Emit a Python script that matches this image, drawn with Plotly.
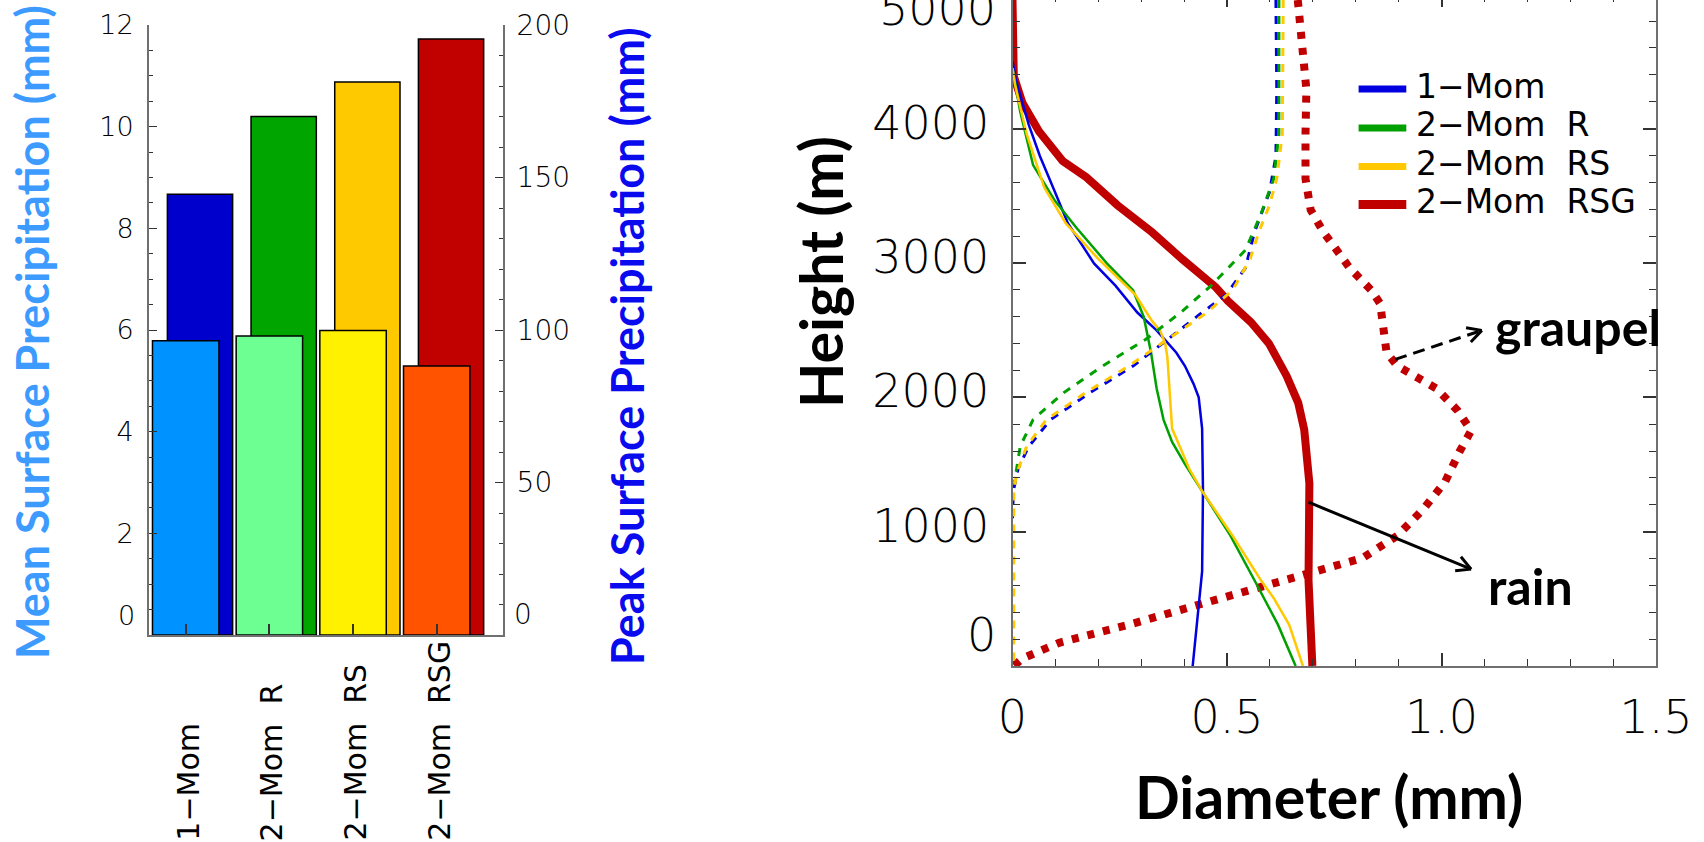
import math
import plotly.graph_objects as go

W, H = 1704, 842

# ---------------- data: left panel (bars) ----------------
categories = ["1-Mom", "2-Mom R", "2-Mom RS", "2-Mom RSG"]
peak_precip = [144.5, 170.0, 181.3, 195.4]      # right axis (mm)
mean_precip = [5.79, 5.88, 5.99, 5.29]          # left axis (mm)
peak_colors = ["#0000CD", "#00A500", "#FFC900", "#C10000"]
mean_colors = ["#0092FF", "#6DFF92", "#FFF100", "#FF5300"]

left_ticks_mean = [0, 2, 4, 6, 8, 10, 12]
left_ticks_peak = [0, 50, 100, 150, 200]

# ---------------- data: right panel (profiles) ----------------
rain_1mom_h = [4500, 4359, 4027, 3794, 3528, 3296, 2997, 2831, 2631, 2498, 2332, 2233, 2100, 2000, 1767, 1302, 704, 306, 0]
rain_1mom_d = [0.0, 0.008, 0.038, 0.064, 0.099, 0.129, 0.190, 0.240, 0.291, 0.336, 0.382, 0.402, 0.422, 0.434, 0.442, 0.444, 0.442, 0.430, 0.420]

rain_2momR_h = [4450, 4392, 4126, 3728, 3462, 3262, 2997, 2797, 2598, 2332, 2066, 1834, 1668, 1502, 1302, 970, 638, 306, 0]
rain_2momR_d = [0.0, 0.003, 0.018, 0.048, 0.099, 0.149, 0.220, 0.281, 0.306, 0.323, 0.336, 0.352, 0.372, 0.402, 0.442, 0.508, 0.564, 0.619, 0.660]

rain_2momRS_h = [4450, 4326, 3960, 3561, 3296, 3030, 2764, 2565, 2498, 2399, 2299, 2033, 1767, 1468, 1302, 970, 638, 505, 306, 0]
rain_2momRS_d = [0.0, 0.006, 0.033, 0.074, 0.124, 0.200, 0.286, 0.326, 0.344, 0.356, 0.361, 0.366, 0.372, 0.412, 0.442, 0.513, 0.579, 0.609, 0.645, 0.677]

rain_2momRSG_h = [4957, 4700, 4390, 4193, 3978, 3758, 3638, 3429, 3229, 3030, 2819, 2718, 2559, 2399, 2159, 1959, 1759, 1360, 1000, 638, 0]
rain_2momRSG_d = [0.0, 0.001, 0.003, 0.023, 0.062, 0.117, 0.172, 0.245, 0.325, 0.395, 0.474, 0.502, 0.556, 0.598, 0.639, 0.666, 0.680, 0.692, 0.693, 0.690, 0.699]

ice_1mom_h = [4957, 4292, 3794, 3528, 3229, 2963, 2764, 2631, 2432, 2233, 2033, 1834, 1635, 1468, 1302, 1100]
ice_1mom_d = [0.614, 0.616, 0.614, 0.599, 0.564, 0.543, 0.498, 0.442, 0.362, 0.281, 0.180, 0.089, 0.038, 0.013, 0.002, 0.0]

ice_2momR_h = [4957, 3960, 3628, 3362, 3096, 2831, 2631, 2432, 2233, 2033, 1834, 1635, 1435, 1370]
ice_2momR_d = [0.621, 0.621, 0.609, 0.579, 0.543, 0.463, 0.392, 0.311, 0.210, 0.119, 0.048, 0.018, 0.008, 0.005]

ice_2momRS_h = [4957, 3960, 3628, 3429, 3229, 3030, 2798, 2631, 2432, 2233, 2033, 1834, 1635, 1435, 1302, 0]
ice_2momRS_d = [0.631, 0.629, 0.616, 0.599, 0.574, 0.554, 0.513, 0.453, 0.362, 0.271, 0.170, 0.079, 0.033, 0.010, 0.003, 0.003]

graupel_2momRSG_h = [4957, 4625, 4292, 3960, 3628, 3395, 3229, 2963, 2798, 2698, 2565, 2333, 2233, 2066, 1900, 1751, 1601, 1369, 1169, 970, 804, 671, 571, 439, 306, 173, 56, 0]
graupel_2momRSG_d = [0.665, 0.677, 0.685, 0.683, 0.683, 0.695, 0.725, 0.786, 0.836, 0.857, 0.862, 0.872, 0.897, 0.988, 1.038, 1.069, 1.043, 1.008, 0.958, 0.897, 0.816, 0.675, 0.554, 0.415, 0.270, 0.109, 0.023, 0.003]

legend_labels = ["1-Mom", "2-Mom R", "2-Mom RS", "2-Mom RSG"]
line_colors = ["#0000E0", "#00A000", "#FFC800", "#C00000"]

x_ticks_right = [0, 0.5, 1.0, 1.5]
x_ticktext_right = ["0", "0.5", "1.0", "1.5"]
y_ticks_right = [0, 1000, 2000, 3000, 4000, 5000]

# ---------------- geometry (picture pixels) ----------------
L_X0, L_X1, L_Y0, L_Y1 = 149, 503, 635, 25         # left panel box
R_X0, R_X1, R_Y0 = 1012.5, 1656, 666                # right panel box
PX_PER_MM = (R_X1 - R_X0) / 1.5
PX_PER_M = 0.13435
R_YTOP = R_Y0 / PX_PER_M                            # height at the top pixel row


def pxx(x):
    return x / W


def pxy(y):
    return 1 - y / H


def lab(s):
    return s.replace("-", "\u2212").replace(" ", "\u00a0\u00a0")


TICKFONT = "DejaVu Sans"
TITLEFONT = "Lato"
AXC = "#707070"
TKC = "#333333"


def tickf(s, w=300):
    return dict(family=TICKFONT, size=s, color="#000000", weight=w)


fig = go.Figure()

# bars: peak (back, right axis), mean (front, left axis)
fig.add_trace(go.Bar(x=categories, y=peak_precip, xaxis="x", yaxis="y",
                     width=0.78, offset=-0.219,
                     marker=dict(color=peak_colors, line=dict(color="#000000", width=1.5)),
                     showlegend=False, hoverinfo="skip"))
fig.add_trace(go.Bar(x=categories, y=mean_precip, xaxis="x", yaxis="y2",
                     width=0.794, offset=-0.397,
                     marker=dict(color=mean_colors, line=dict(color="#000000", width=1.5)),
                     showlegend=False, hoverinfo="skip"))


def add_line(xs, ys, color, width, dash="solid"):
    fig.add_trace(go.Scatter(x=xs, y=ys, xaxis="x2", yaxis="y3", mode="lines",
                             line=dict(color=color, width=width, dash=dash),
                             showlegend=False, hoverinfo="skip"))

add_line(rain_2momRSG_d, rain_2momRSG_h, line_colors[3], 8)
add_line(graupel_2momRSG_d, graupel_2momRSG_h, line_colors[3], 8, "7px,9px")
add_line(rain_1mom_d, rain_1mom_h, line_colors[0], 2.5)
add_line(rain_2momR_d, rain_2momR_h, line_colors[1], 2.5)
add_line(rain_2momRS_d, rain_2momRS_h, line_colors[2], 2.5)
add_line(ice_1mom_d, ice_1mom_h, line_colors[0], 3, "8px,8px")
add_line(ice_2momR_d, ice_2momR_h, line_colors[1], 3, "8px,8px")
add_line(ice_2momRS_d, ice_2momRS_h, line_colors[2], 3, "8px,8px")
fig.add_trace(go.Scatter(x=[], y=[], xaxis="x3", yaxis="y3", showlegend=False, hoverinfo="skip"))

ann = []
shapes = []

# category labels under the bars
for c in categories:
    ann.append(dict(x=c, xref="x", y=0, yref="paper", yanchor="bottom", xanchor="center",
                    text=lab(c), textangle=-90, showarrow=False, xshift=2, yshift=-1,
                    font=dict(family=TICKFONT, size=30, color="#000000")))

# raised zero labels (IDL style) and the partly hidden 5000 label
ann.append(dict(x=pxx(L_X0 - 12), y=pxy(L_Y0 - 2), xref="paper", yref="paper", text="0",
                xanchor="right", yanchor="bottom", showarrow=False, font=tickf(27)))
ann.append(dict(x=pxx(L_X1 + 9), y=pxy(L_Y0 - 2), xref="paper", yref="paper", text="0",
                xanchor="left", yanchor="bottom", showarrow=False, font=tickf(28)))
ann.append(dict(x=pxx(R_X0 - 15), y=pxy(R_Y0 - 2), xref="paper", yref="paper", text="0",
                xanchor="right", yanchor="bottom", showarrow=False, font=tickf(46)))
ann.append(dict(x=pxx(R_X0 - 15), y=pxy(9), xref="paper", yref="paper", text="5000",
                xanchor="right", yanchor="middle", showarrow=False, font=tickf(46)))

# axis titles
ann.append(dict(x=pxx(32), y=pxy(332), xref="paper", yref="paper", text="<b>Mean Surface Precipitation (mm)</b>",
                xanchor="center", yanchor="middle", textangle=-90, showarrow=False,
                font=dict(family=TITLEFONT, size=45, color="#3D9BFF")))
ann.append(dict(x=pxx(627), y=pxy(346), xref="paper", yref="paper", text="<b>Peak Surface Precipitation (mm)</b>",
                xanchor="center", yanchor="middle", textangle=-90, showarrow=False,
                font=dict(family=TITLEFONT, size=45, color="#0A0AEE")))
ann.append(dict(x=pxx(821), y=pxy(272), xref="paper", yref="paper", text="<b>Height (m)</b>",
                xanchor="center", yanchor="middle", textangle=-90, showarrow=False,
                font=dict(family=TITLEFONT, size=59, color="#000000")))
ann.append(dict(x=pxx(1329), y=pxy(796), xref="paper", yref="paper", text="<b>Diameter (mm)</b>",
                xanchor="center", yanchor="middle", showarrow=False,
                font=dict(family=TITLEFONT, size=59, color="#000000")))

# graupel / rain labels
ann.append(dict(x=1.119, y=2523, xref="x2", yref="y3", text="<b>graupel</b>", xanchor="left", yanchor="middle",
                showarrow=False, font=dict(family=TITLEFONT, size=50, color="#000000")))
ann.append(dict(x=1.103, y=595, xref="x2", yref="y3", text="<b>rain</b>", xanchor="left", yanchor="middle",
                showarrow=False, font=dict(family=TITLEFONT, size=50, color="#000000")))


def to_px(d, h):
    return R_X0 + d * PX_PER_MM, R_Y0 - h * PX_PER_M


def to_data(px, py):
    return (px - R_X0) / PX_PER_MM, (R_Y0 - py) / PX_PER_M


def arrow(d0, h0, d1, h1, dash):
    shapes.append(dict(type="line", xref="x2", yref="y3", x0=d0, y0=h0, x1=d1, y1=h1,
                       line=dict(color="#000000", width=3, dash=dash)))
    x0, y0 = to_px(d0, h0)
    x1, y1 = to_px(d1, h1)
    ang = math.atan2(y0 - y1, x0 - x1)
    for s in (-1, 1):
        a = ang + s * math.radians(28)
        dx, dy = to_data(x1 + 16 * math.cos(a), y1 + 16 * math.sin(a))
        shapes.append(dict(type="line", xref="x2", yref="y3", x0=d1, y0=h1, x1=dx, y1=dy,
                           line=dict(color="#000000", width=3)))

arrow(0.892, 2282, 1.094, 2498, "12px,7px")
arrow(0.690, 1219, 1.069, 721, "solid")

# legend (manual)
leg_rows = [89, 128, 166.5, 204.5]
leg_widths = [7, 7, 7, 9]
for name, col, yy, lw in zip(legend_labels, line_colors, leg_rows, leg_widths):
    shapes.append(dict(type="line", xref="paper", yref="paper", x0=pxx(1358.6), x1=pxx(1406.3),
                       y0=pxy(yy), y1=pxy(yy), line=dict(color=col, width=lw)))
    ann.append(dict(x=pxx(1414), y=pxy(yy - 3), xref="paper", yref="paper", text=lab(name),
                    xanchor="left", yanchor="middle", showarrow=False,
                    font=dict(family=TICKFONT, size=33, color="#000000")))

fig.update_layout(
    template="none",
    width=W, height=H, autosize=False,
    margin=dict(l=0, r=0, t=0, b=0, pad=0, autoexpand=False),
    paper_bgcolor="white", plot_bgcolor="white",
    barmode="overlay", showlegend=False,
    annotations=ann, shapes=shapes,
    xaxis=dict(domain=[pxx(L_X0), pxx(L_X1)], anchor="y", type="category", automargin=False,
               categoryorder="array", categoryarray=categories,
               range=[-0.4386, 3.792], showticklabels=False,
               ticks="inside", ticklen=11, tickwidth=1.5, tickcolor=TKC,
               showline=True, linecolor=AXC, linewidth=2, showgrid=False, zeroline=False),
    yaxis=dict(domain=[pxy(L_Y0), pxy(L_Y1)], anchor="x", side="right", range=[0, 200], automargin=False,
               tickvals=left_ticks_peak, ticktext=[("" if v == 0 else str(v)) for v in left_ticks_peak],
               ticks="inside", ticklen=8, tickwidth=1.2, tickcolor=TKC,
               minor=dict(dtick=10, ticks="inside", ticklen=4, tickwidth=1, tickcolor=TKC),
               showline=True, linecolor=AXC, linewidth=2, showgrid=False, zeroline=False,
               tickfont=tickf(28), ticklabelstandoff=6),
    yaxis2=dict(domain=[pxy(L_Y0), pxy(L_Y1)], anchor="x", overlaying="y", side="left", range=[0, 12],
                automargin=False,
                tickvals=left_ticks_mean, ticktext=[("" if v == 0 else str(v)) for v in left_ticks_mean],
                ticks="inside", ticklen=8, tickwidth=1.2, tickcolor=TKC,
                minor=dict(dtick=0.5, ticks="inside", ticklen=4, tickwidth=1, tickcolor=TKC),
                showline=True, linecolor=AXC, linewidth=2, showgrid=False, zeroline=False,
                tickfont=tickf(27), ticklabelstandoff=8),
    xaxis2=dict(domain=[pxx(R_X0), pxx(R_X1)], anchor="y3", range=[0, 1.5], automargin=False,
                tickvals=x_ticks_right, ticktext=x_ticktext_right,
                ticks="inside", ticklen=13, tickwidth=1.5, tickcolor=TKC,
                minor=dict(dtick=0.1, ticks="inside", ticklen=7, tickwidth=1.2, tickcolor=TKC),
                showline=True, linecolor=AXC, linewidth=2, showgrid=False, zeroline=False,
                tickfont=tickf(46), ticklabelstandoff=10),
    xaxis3=dict(domain=[pxx(R_X0), pxx(R_X1)], anchor="y3", overlaying="x2", side="top", range=[0, 1.5],
                automargin=False, tickvals=x_ticks_right, showticklabels=False,
                ticks="inside", ticklen=7, tickwidth=1.5, tickcolor=TKC,
                minor=dict(dtick=0.1, ticks="inside", ticklen=2, tickwidth=1.2, tickcolor=TKC),
                showline=False, showgrid=False, zeroline=False),
    yaxis3=dict(domain=[pxy(R_Y0), 1], anchor="x2", range=[0, R_YTOP], automargin=False,
                tickvals=y_ticks_right, ticktext=[("" if v == 0 else str(v)) for v in y_ticks_right],
                ticks="inside", ticklen=13, tickwidth=1.5, tickcolor=TKC,
                minor=dict(dtick=200, ticks="inside", ticklen=7, tickwidth=1.2, tickcolor=TKC),
                mirror="ticks", showline=True, linecolor=AXC, linewidth=2, showgrid=False, zeroline=False,
                tickfont=tickf(46), ticklabelstandoff=12, ticklabelshift=-6),
)

fig.write_html("out.html")
